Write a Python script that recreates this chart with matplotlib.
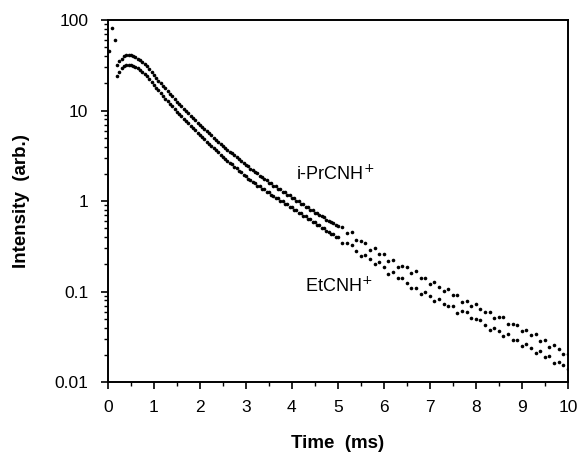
import numpy as np
import matplotlib
matplotlib.use('Agg')
from matplotlib import pyplot as plt
from matplotlib.ticker import FixedLocator, NullFormatter, MultipleLocator

plt.rcParams['font.family'] = ['Liberation Sans', 'DejaVu Sans']

# sample times (ms): fine grid early, coarser in the tail
t_head = np.round(np.arange(0.20, 5.001, 0.05), 2)
t_tail = np.round(np.arange(5.1, 10.001, 0.1), 2)

# i-PrCNH+ (upper trace)
iprcnh_head = [31.6, 35.1, 37.6, 39.8, 40.9, 41.2, 40.7, 39.8, 38.9, 37.6,
               36.3, 34.7, 33.1, 30.9, 28.7, 26.5, 24.5, 23.0, 21.5, 20.1,
               18.8, 17.6, 16.4, 15.4, 14.4, 13.5, 12.6, 11.9, 11.2, 10.5,
               9.91, 9.33, 8.79, 8.28, 7.80, 7.35, 6.92, 6.56, 6.22, 5.90,
               5.60, 5.31, 5.04, 4.78, 4.53, 4.30, 4.07, 3.88, 3.70, 3.52,
               3.36, 3.20, 3.05, 2.90, 2.77, 2.64, 2.51, 2.42, 2.29, 2.21,
               2.09, 2.03, 1.91, 1.86, 1.75, 1.71, 1.60, 1.57, 1.48, 1.45,
               1.37, 1.35, 1.26, 1.25, 1.17, 1.16, 1.08, 1.07, 1.00, 0.99,
               0.93, 0.92, 0.86, 0.86, 0.80, 0.80, 0.74, 0.74, 0.70, 0.68,
               0.66, 0.62, 0.61, 0.58, 0.57, 0.54, 0.53]
iprcnh_tail = [0.511, 0.443, 0.451, 0.373, 0.363, 0.344, 0.290, 0.301, 0.259, 0.263,
               0.220, 0.221, 0.189, 0.190, 0.186, 0.159, 0.167, 0.143, 0.141, 0.120,
               0.126, 0.113, 0.101, 0.107, 0.0912, 0.0916, 0.0766, 0.0787, 0.0689, 0.0724,
               0.0640, 0.0592, 0.0600, 0.0506, 0.0525, 0.0520, 0.0439, 0.0435, 0.0431, 0.0363,
               0.0373, 0.0334, 0.0344, 0.0287, 0.0288, 0.0245, 0.0257, 0.0229, 0.0204, 0.0204]

# EtCNH+ (lower trace)
etcnh_head = [24.0, 26.9, 29.2, 30.9, 31.6, 32.0, 31.6, 31.3, 30.2, 29.3,
              28.2, 26.9, 25.7, 24.0, 22.4, 20.7, 19.1, 17.8, 16.7, 15.6,
              14.6, 13.6, 12.8, 11.9, 11.2, 10.4, 9.77, 9.20, 8.67, 8.17,
              7.69, 7.24, 6.82, 6.43, 6.05, 5.70, 5.37, 5.08, 4.81, 4.55,
              4.31, 4.07, 3.85, 3.65, 3.45, 3.27, 3.09, 2.94, 2.79, 2.65,
              2.55, 2.38, 2.30, 2.13, 2.09, 1.92, 1.89, 1.76, 1.73, 1.61,
              1.60, 1.48, 1.47, 1.37, 1.36, 1.26, 1.25, 1.17, 1.15, 1.08,
              1.07, 1.00, 1.00, 0.93, 0.93, 0.86, 0.86, 0.80, 0.79, 0.74,
              0.74, 0.69, 0.68, 0.64, 0.64, 0.59, 0.59, 0.55, 0.54, 0.51,
              0.50, 0.47, 0.46, 0.43, 0.43, 0.40, 0.40]
etcnh_tail = [0.344, 0.340, 0.330, 0.278, 0.245, 0.256, 0.227, 0.201, 0.210, 0.186,
              0.157, 0.163, 0.141, 0.143, 0.123, 0.110, 0.110, 0.0933, 0.0977, 0.0891,
              0.0787, 0.0836, 0.0721, 0.0698, 0.0692, 0.0583, 0.0605, 0.0600, 0.0506, 0.0501,
              0.0490, 0.0427, 0.0380, 0.0398, 0.0363, 0.0321, 0.0340, 0.0294, 0.0291, 0.0251,
              0.0264, 0.0237, 0.0212, 0.0223, 0.0191, 0.0192, 0.0161, 0.0167, 0.0153, 0.0141]

# stray points right after t = 0
early_t = [0.03, 0.10, 0.15]
early_v = [46, 82, 60]

y_ticks = [0.01, 0.1, 1, 10, 100]
y_ticklabels = ['0.01', '0.1', '1', '10', '100']

t_all = np.concatenate([t_head, t_tail])
fig = plt.figure(figsize=(5.8, 4.57), dpi=100)
ax = fig.add_axes([0.186, 0.164, 0.793, 0.792])

dot = dict(marker='o', ms=2.6, ls='none', color='black', mew=0)
ax.plot(t_all, iprcnh_head + iprcnh_tail, **dot)
ax.plot(t_all, etcnh_head + etcnh_tail, **dot)
ax.plot(early_t, early_v, **dot)

ax.set_yscale('log')
ax.set_xlim(0, 10)
ax.set_ylim(0.01, 100)
ax.set_yticks(y_ticks)
ax.set_yticklabels(y_ticklabels)
ax.yaxis.set_minor_locator(FixedLocator(
    [m * 10.0 ** e for e in range(-2, 2) for m in range(2, 10)]))
ax.yaxis.set_minor_formatter(NullFormatter())
ax.set_xticks(range(0, 11))
ax.xaxis.set_minor_locator(MultipleLocator(0.5))

ax.tick_params(which='major', direction='out', length=5, width=1.2,
               labelsize=12.5, top=False, right=False)
ax.tick_params(which='minor', direction='out', length=3, width=1.0,
               top=False, right=False)
ax.tick_params(axis='x', which='major', pad=8)
ax.tick_params(axis='y', which='major', pad=9)
for s in ax.spines.values():
    s.set_linewidth(1.4)

ax.set_xlabel('Time  (ms)', fontsize=13.5, fontweight='bold', labelpad=14)
ax.set_ylabel('Intensity  (arb.)', fontsize=13.5, fontweight='bold', labelpad=18)

ax.text(4.1, 1.98, 'i-PrCNH$^{+}$', fontsize=13, va='center', ha='left')
ax.text(4.28, 0.116, 'EtCNH$^{+}$', fontsize=13, va='center', ha='left')

fig.savefig('out.png', dpi=100)
